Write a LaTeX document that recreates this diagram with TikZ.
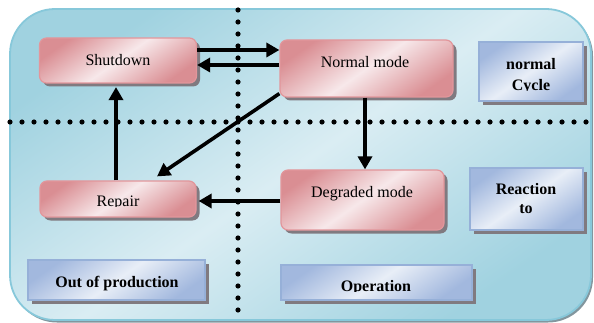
\documentclass[tikz,border=0pt]{standalone}
\usepackage{fontspec}
\setmainfont{Liberation Serif}
\usetikzlibrary{arrows.meta,shadows}
\definecolor{bgL}{RGB}{218,237,243}
\definecolor{bgD}{RGB}{160,210,224}
\definecolor{bgB}{RGB}{135,200,218}
\definecolor{pinkD}{RGB}{218,142,147}
\definecolor{pinkL}{RGB}{247,232,234}
\definecolor{pinkB}{RGB}{226,150,155}
\definecolor{blueD}{RGB}{162,184,222}
\definecolor{blueL}{RGB}{232,238,247}
\definecolor{blueB}{RGB}{150,176,216}
\definecolor{shadC}{RGB}{128,122,128}
\definecolor{outShad}{RGB}{130,150,158}
\tikzset{
  txt/.style={font=\fontsize{16}{20}\selectfont, inner sep=0pt, anchor=base},
  btxt/.style={txt, font=\fontsize{16}{20}\selectfont\bfseries},
  pinkbox/.style={draw=pinkB, line width=1.2pt, rounded corners=7pt, inner sep=0pt,
    top color=pinkD, bottom color=pinkD, middle color=pinkL, shading angle=35,
    drop shadow={shadow xshift=3.5pt, shadow yshift=-3.5pt, fill=shadC, opacity=1}},
  bluebox/.style={draw=blueB, line width=1.4pt, inner sep=0pt,
    top color=blueD, bottom color=blueD, middle color=blueL, shading angle=35,
    drop shadow={shadow xshift=4pt, shadow yshift=-4pt, fill=shadC, opacity=1}},
  arr/.style={line width=3.6pt, -{Triangle[length=13pt,width=14pt]}},
  dots/.style={line width=5.2pt, line cap=round, dash pattern=on 0pt off 12pt}
}
\begin{document}
\begin{tikzpicture}[x=1pt,y=-1pt]
\useasboundingbox (0,0) rectangle (594,323);
% background frame
\fill[outShad, rounded corners=45pt] (12,11) rectangle (593,322.5);
\draw[bgB, line width=1.8pt, rounded corners=45pt, top color=bgD, bottom color=bgD, middle color=bgL, shading angle=35]
  (10,9) rectangle (591,320);
% dotted separators
\coordinate (h1) at (10,122);
\coordinate (h2) at (594,122);
\coordinate (v1) at (238,10);
\coordinate (v2) at (238,312);
\draw[dots] (h1) -- (h2);
\draw[dots] (v1) -- (v2);
% state boxes
\node[pinkbox, minimum width=157pt, minimum height=45pt] (sd) at (118,60.5) {};
\node[pinkbox, minimum width=173pt, minimum height=57pt] (nm) at (366.5,68.5) {};
\node[pinkbox, minimum width=156pt, minimum height=36pt] (rp) at (118,199) {};
\node[pinkbox, minimum width=163pt, minimum height=60pt] (dg) at (362.5,200) {};
% label boxes
\node[bluebox, minimum width=104pt, minimum height=59pt] (nc) at (531,71.5) {};
\node[bluebox, minimum width=113pt, minimum height=62pt] (ra) at (526.5,199) {};
\node[bluebox, minimum width=177pt, minimum height=40pt] (op) at (116.5,280) {};
\node[bluebox, minimum width=191pt, minimum height=35pt] (ope) at (376.5,282.5) {};
% texts
\node[txt] (tsd) at (118,66) {Shutdown};
\node[txt] (tnm) at (365,68) {Normal mode};
\begin{scope}
  \clip (40,180) rectangle (196,206.5);
  \node[txt] (trp) at (118,206.5) {Repair};
\end{scope}
\node[txt] (tdg) at (362,197) {Degraded mode};
\node[btxt] (tnc1) at (531,69.5) {normal};
\begin{scope}
  \clip (479,72) rectangle (583,90.5);
  \node[btxt] (tnc2) at (531,90.5) {Cycle};
\end{scope}
\node[btxt] (tra1) at (526,195) {Reaction};
\node[btxt] (tra2) at (526,214) {to};
\node[btxt] (top) at (117,287) {Out of production};
\begin{scope}
  \clip (281,265) rectangle (472,291.5);
  \node[btxt] (tope) at (376,291.5) {Operation};
\end{scope}
% transitions
\draw[arr] ([yshift=10.5pt]sd.east) -- ([yshift=10.5pt]sd.east -| nm.west);
\draw[arr] ([yshift=-4.5pt]sd.east -| nm.west) -- ([yshift=-4.5pt]sd.east);
\draw[arr] ([xshift=-2pt]rp.north) -- ([xshift=-2pt,yshift=-3.5pt]sd.south);
\draw[arr] ([yshift=4pt]nm.south west) -- ([xshift=39pt,yshift=4pt]rp.north);
\draw[arr] ([xshift=-1.5pt]nm.south) -- ([xshift=-1.5pt]nm.south |- dg.north);
\draw[arr] ([yshift=-1pt]dg.west) -- ([yshift=-2pt,xshift=2pt]rp.east);
\end{tikzpicture}
\end{document}
